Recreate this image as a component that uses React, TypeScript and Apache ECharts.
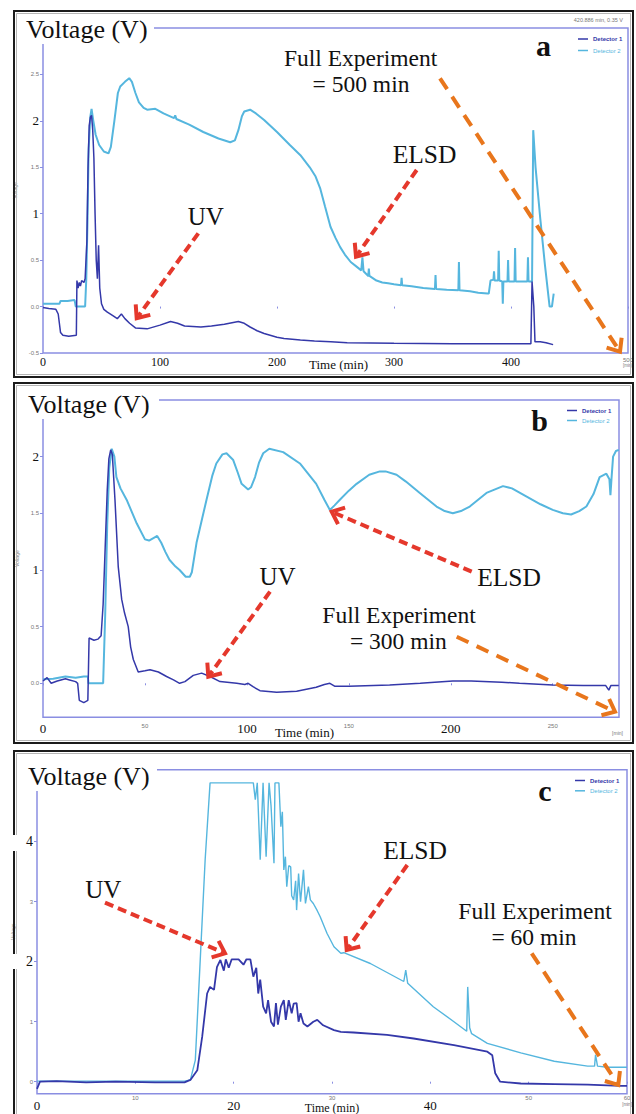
import React, { useEffect, useRef } from 'react';
import * as echarts from 'echarts';

// ---------- Data (time in min, voltage in V) ----------
// Panel a (500 min run)
const ELSD_A: number[][] = [
  [0, 0.03], [5, 0.03], [14, 0.03], [15, 0.06], [21, 0.06], [27, 0.07], [28, 0.0], [36, 0.0], [37, 0.3], [38, 0.9],
  [39, 1.7], [40.5, 2.05], [41.5, 2.13], [43, 2.0], [45, 1.85], [48, 1.74], [52, 1.67], [56, 1.65], [58, 1.72], [61, 2.0],
  [64, 2.3], [66, 2.37], [70, 2.42], [73.7, 2.46], [76, 2.42], [79, 2.3], [82, 2.2], [86, 2.14], [89, 2.12], [96, 2.13],
  [103, 2.08], [112, 2.03], [113, 2.06], [114, 2.02], [125, 1.96], [137, 1.88], [150, 1.81], [160, 1.77], [164, 1.79],
  [167, 1.9], [170, 2.05], [172, 2.1], [177, 2.12], [182, 2.08], [189, 2.01], [200, 1.88], [211, 1.74], [220, 1.63],
  [228, 1.5], [233, 1.4], [237, 1.27], [241, 1.08], [245.7, 0.86], [250, 0.74], [254, 0.64], [258, 0.56], [263, 0.48],
  [268, 0.43], [272, 0.39], [273, 0.53], [274, 0.38], [278, 0.33], [278.5, 0.41], [279, 0.33], [285, 0.28], [290, 0.26],
  [295, 0.25], [300, 0.24], [306, 0.23], [306.5, 0.31], [307, 0.23], [315, 0.22], [325, 0.2], [335, 0.19], [335.5, 0.34],
  [336, 0.19], [345, 0.18], [355, 0.175], [355.5, 0.48], [356, 0.175], [365, 0.165], [372, 0.15], [380, 0.14], [381, 0.14],
  [382.5, 0.28], [385, 0.29], [385.5, 0.38], [386, 0.28], [389, 0.28], [389.5, 0.6], [390, 0.28], [392.5, 0.27], [393, 0.03],
  [393.5, 0.27], [397, 0.27], [397.5, 0.5], [398, 0.27], [403, 0.27], [403.5, 0.63], [404, 0.27], [410, 0.27], [414, 0.27],
  [414.5, 0.53], [415, 0.27], [418, 0.27], [419, 1.9], [421, 1.5], [425, 0.95], [429, 0.45], [433, 0.0], [435, 0.0], [436.5, 0.14],
];
const UV_A: number[][] = [
  [0, -0.01], [5, -0.02], [11, -0.03], [13, -0.08], [15, -0.28], [17, -0.31], [22, -0.32], [28.5, -0.31], [29, 0.28], [30, 0.2],
  [31, 0.26], [32, 0.22], [33, 0.28], [35, 0.26], [36, 0.3], [37.5, 0.7], [38.5, 1.5], [39.5, 1.95], [40.5, 2.04], [41.5, 2.06],
  [42.5, 1.9], [43.5, 1.6], [44.5, 1.0], [45.5, 0.5], [46.5, 0.3], [47.5, 0.66], [48.5, 0.2], [50, 0.03], [52, -0.03], [55, -0.06],
  [60, -0.1], [63.5, -0.13], [67, -0.08], [70, -0.13], [74, -0.18], [79, -0.23], [89, -0.24], [100, -0.2], [109, -0.16],
  [115, -0.18], [121, -0.21], [135, -0.22], [144, -0.21], [155, -0.19], [167, -0.16], [172, -0.18], [177, -0.22], [183, -0.26],
  [189, -0.29], [200, -0.33], [206, -0.345], [220, -0.36], [232, -0.37], [246, -0.38], [260, -0.39], [300, -0.395], [350, -0.4],
  [417, -0.4], [418, 0.27], [419.5, 0.0], [420.5, -0.38], [425, -0.38], [430, -0.39], [436, -0.41],
];

// Panel b (300 min run)
const ELSD_B: number[][] = [
  [0, 0.035], [5, 0.04], [11, 0.06], [16, 0.05], [20, 0.06], [22, 0.06], [22.3, 0.0], [29.5, 0.0], [30.5, 0.6], [31.5, 1.4],
  [32.5, 1.9], [33.7, 2.07], [35, 2.0], [36, 1.82], [38, 1.72], [41, 1.62], [46, 1.41], [50, 1.27], [52, 1.26], [55, 1.29],
  [56, 1.3], [58, 1.24], [60, 1.16], [62, 1.09], [65, 1.03], [67, 1.0], [70, 0.94], [72, 0.94], [73, 0.98], [75.3, 1.24],
  [78, 1.45], [80.2, 1.62], [83, 1.83], [85, 1.94], [88, 2.02], [90, 2.03], [93.3, 1.97], [95.5, 1.86], [97.4, 1.76],
  [100.6, 1.71], [102, 1.73], [104, 1.82], [106, 1.95], [108, 2.03], [111, 2.07], [117.8, 2.04], [126, 1.94], [134, 1.76],
  [138, 1.62], [140.7, 1.53], [143, 1.57], [145.6, 1.62], [150, 1.7], [153.8, 1.76], [160, 1.84], [165.2, 1.87], [168, 1.87],
  [173.4, 1.84], [178, 1.78], [184.8, 1.68], [193, 1.56], [197, 1.52], [201, 1.5], [205, 1.52], [209.3, 1.56], [217.5, 1.68],
  [225.6, 1.74], [230, 1.72], [237, 1.65], [244, 1.58], [250, 1.53], [255, 1.5], [259, 1.49], [263, 1.52], [266.5, 1.56],
  [270, 1.67], [273, 1.82], [276.3, 1.85], [277.8, 1.8], [278.3, 1.66], [278.8, 1.8], [279.6, 2.0], [281, 2.05], [282.4, 2.06],
];
const UV_B: number[][] = [
  [0, 0.02], [2, 0.05], [4, 0.0], [7, 0.02], [11, 0.04], [13, 0.03], [16, 0.015], [17, 0.0], [17.8, -0.15], [20, -0.17],
  [22, -0.15], [22.6, 0.4], [25, 0.38], [27, 0.39], [28.5, 0.42], [29.5, 0.7], [30.5, 1.2], [31.5, 1.7], [32.3, 1.98],
  [33.2, 2.06], [34, 2.02], [35.3, 1.62], [36.9, 1.03], [38.6, 0.74], [40, 0.62], [41.8, 0.5], [43, 0.32], [44.3, 0.21],
  [46.7, 0.1], [50, 0.11], [52.5, 0.12], [56.6, 0.1], [60.6, 0.06], [64, 0.03], [67, 0.0], [69.6, 0.015], [73.7, 0.07],
  [77.8, 0.09], [81.9, 0.06], [86.8, 0.015], [95, 0.0], [99, -0.01], [100.6, 0.0], [103, -0.03], [106.4, -0.065],
  [114.6, -0.08], [124.4, -0.07], [134, -0.035], [138, -0.01], [140.7, 0.0], [143, -0.025], [150, -0.025], [170, -0.015],
  [185, 0.0], [201, 0.02], [210, 0.02], [225, 0.01], [233.7, 0.0], [250, -0.015], [265, -0.02], [276, -0.02], [277.5, -0.06],
  [278.5, -0.02], [282.4, -0.02],
];

// Panel c (60 min run)
const ELSD_C: number[][] = [
  [0, 0.01], [5, 0.01], [10, 0.01], [15, 0.01], [15.6, 0.03], [16.1, 0.36], [16.6, 2.03], [17.1, 3.7], [17.6, 4.98],
  [22, 4.98], [22.2, 4.7], [22.4, 4.98], [22.7, 3.7], [22.99, 4.98], [23.3, 3.75], [23.6, 4.98], [23.8, 4.6], [24.1, 3.64],
  [24.2, 4.98], [24.6, 4.98], [24.8, 4.25], [24.95, 4.5], [25.1, 3.53], [25.26, 3.75], [25.4, 3.25], [25.6, 3.6],
  [25.8, 3.58], [25.9, 3.1], [26.1, 3.03], [26.3, 3.35], [26.4, 2.86], [26.6, 3.47], [26.8, 3.0], [27.1, 3.53], [27.3, 2.97],
  [27.6, 3.25], [27.8, 3.03], [28.1, 2.97], [28.5, 2.85], [28.8, 2.75], [29.5, 2.47], [30.2, 2.25], [30.9, 2.14], [31.2, 2.15],
  [33.9, 1.97], [37.3, 1.67], [37.5, 1.86], [37.7, 1.64], [40.3, 1.25], [42.4, 1.0], [43.7, 0.84], [43.8, 1.58], [44, 0.9],
  [44.2, 0.8], [45.8, 0.64], [49.2, 0.48], [52.6, 0.34], [56, 0.26], [56.7, 0.26], [56.8, 0.45], [57, 0.26], [58, 0.24], [60, 0.24],
];
const UV_C: number[][] = [
  [0, -0.12], [0.3, 0.0], [2, 0.01], [5, -0.01], [8, 0.0], [12, -0.01], [15, -0.01], [15.6, 0.03], [16.3, 0.19], [16.8, 0.75],
  [17.3, 1.47], [17.6, 1.58], [18.0, 1.53], [18.3, 1.91], [18.65, 2.03], [19.0, 1.85], [19.2, 2.04], [19.5, 1.9], [19.8, 2.04],
  [20.5, 2.04], [21, 1.95], [21.3, 2.04], [21.7, 2.04], [22, 1.75], [22.3, 1.9], [22.5, 1.47], [22.7, 1.7], [23, 1.25],
  [23.3, 1.14], [23.5, 1.36], [23.8, 1.0], [24.1, 0.92], [24.3, 1.31], [24.5, 0.95], [24.8, 1.25], [25.1, 1.36], [25.3, 1.03],
  [25.6, 1.36], [25.9, 1.14], [26.1, 1.3], [26.4, 1.31], [26.6, 1.0], [26.8, 1.14], [27.1, 0.97], [27.5, 0.92], [28.1, 1.0],
  [28.5, 1.03], [29.1, 0.94], [30.2, 0.86], [30.9, 0.83], [32.2, 0.82], [35.6, 0.78], [38.3, 0.72], [42.4, 0.61], [45.8, 0.5],
  [46.3, 0.44], [46.6, 0.14], [47.1, 0.0], [49.2, -0.03], [52.6, -0.04], [56, -0.05], [59.3, -0.07], [60, -0.07],
];

// Tick values / labels
const X_TICKS_A = [0, 100, 200, 300, 400, 500];
const X_BIG_A = [0, 100, 200, 300, 400];
const Y_TICKS_A = [-0.5, 0, 0.5, 1, 1.5, 2, 2.5];
const Y_BIG_A = [1, 2];
const X_TICKS_B = [0, 50, 100, 150, 200, 250];
const X_BIG_B = [0, 100, 200];
const Y_TICKS_B = [0, 0.5, 1, 1.5, 2];
const Y_BIG_B = [1, 2];
const X_TICKS_C = [0, 10, 20, 30, 40, 50, 60];
const X_BIG_C = [0, 20, 40];
const Y_TICKS_C = [0, 1, 2, 3, 4];
const Y_BIG_C = [2, 4];
const UNIT_LABEL = '[min]';
const SERIES_NAMES = ['Detector 1', 'Detector 2'];

// ---------- Styles ----------
const FRAME = '#8a8ee2';
const ELSD_COLOR = '#55b6de';
const UV_COLOR = '#3438a9';
const RED = '#e5382c';
const ORANGE = '#e8761c';
const SERIF = '"Liberation Serif", "Times New Roman", serif';
const SANS = '"Liberation Sans", Arial, sans-serif';

function fmtY(v: number, big: number[], zeroStr: string) {
  if (big.indexOf(v) >= 0) return `{big|${v}}`;
  const s = v === 0 ? zeroStr : String(v);
  return `{small|${s}}`;
}

function richFor(bigSize: number, bigPadTop = 0) {
  return {
    big: { fontFamily: SERIF, fontSize: bigSize, color: '#111', padding: [bigPadTop, 0, 0, 0] },
    small: { fontFamily: SANS, fontSize: 6, color: '#777', lineHeight: 7 },
    tiny: { fontFamily: SANS, fontSize: 4.5, color: '#777', lineHeight: 5 },
  };
}

function xAxisDef(gi: number, max: number, ticks: number[], big: number[], bigSize: number, margin: number, unitAt: number | null, bigPadTop = 0) {
  return {
    gridIndex: gi, type: 'value', min: 0, max,
    axisLine: { show: false },
    splitLine: { show: false },
    axisTick: { show: true, length: 2, lineStyle: { color: FRAME }, customValues: ticks },
    axisLabel: {
      customValues: ticks, margin,
      formatter: (v: number) => {
        if (big.indexOf(v) >= 0) return `{big|${v}}`;
        if (unitAt !== null && v === unitAt) return `{small|${v}}\n{tiny|${UNIT_LABEL}}`;
        return `{small|${v}}`;
      },
      rich: richFor(bigSize, bigPadTop),
    },
  };
}

function yAxisDef(gi: number, min: number, max: number, ticks: number[], big: number[], zeroStr: string, bigSize: number, nameGap: number) {
  return {
    gridIndex: gi, type: 'value', min, max,
    axisLine: { show: false },
    splitLine: { show: false },
    axisTick: { show: true, length: 3, lineStyle: { color: FRAME }, customValues: ticks },
    axisLabel: {
      customValues: ticks, margin: 4,
      formatter: (v: number) => fmtY(v, big, zeroStr),
      rich: richFor(bigSize),
    },
    name: 'Voltage', nameLocation: 'middle', nameGap, nameRotate: 90,
    nameTextStyle: { fontSize: 5, color: '#888', fontFamily: SANS },
  };
}

function lineSeries(name: string, data: number[][], idx: number, color: string, width: number) {
  return {
    type: 'line', name, data, xAxisIndex: idx, yAxisIndex: idx,
    showSymbol: false, symbol: 'none', silent: true, color,
    lineStyle: { color, width }, itemStyle: { color },
    z: name === 'Detector 1' ? 4 : 3,
  };
}

function arrow(x1: number, y1: number, x2: number, y2: number, color: string, dash: number[]) {
  const dx = x2 - x1, dy = y2 - y1;
  const len = Math.hypot(dx, dy);
  const ux = dx / len, uy = dy / len;
  const bx = -ux, by = -uy;
  const L = 14, a = (40 * Math.PI) / 180;
  const r1 = [bx * Math.cos(a) - by * Math.sin(a), bx * Math.sin(a) + by * Math.cos(a)];
  const r2 = [bx * Math.cos(-a) - by * Math.sin(-a), bx * Math.sin(-a) + by * Math.cos(-a)];
  return [
    { type: 'line', z: 100, shape: { x1, y1, x2: x2 - ux * 3, y2: y2 - uy * 3 }, style: { stroke: color, lineWidth: 4, lineDash: dash } },
    {
      type: 'polyline', z: 100,
      shape: { points: [[x2 + r1[0] * L, y2 + r1[1] * L], [x2, y2], [x2 + r2[0] * L, y2 + r2[1] * L]] },
      style: { stroke: color, lineWidth: 4, fill: null, lineJoin: 'miter' },
    },
  ];
}

function txt(text: string, x: number, y: number, fontSize: number, align = 'center', weight = 'normal', fill = '#111', family = SERIF) {
  return { type: 'text', z: 102, x, y, style: { text, fontSize, fontFamily: family, fontWeight: weight, fill, align, verticalAlign: 'middle' } };
}

function whiteRect(x: number, y: number, w: number, h: number) {
  return { type: 'rect', z: 101, shape: { x, y, width: w, height: h }, style: { fill: '#fff' } };
}

function panelBorder(x: number, y: number, w: number, h: number) {
  return [
    { type: 'rect', z: 99, shape: { x, y, width: w, height: h }, style: { fill: null, stroke: '#1b1b1b', lineWidth: 2 } },
    { type: 'rect', z: 99, shape: { x: x + 2.5, y: y + 2.5, width: w - 5, height: h - 5 }, style: { fill: null, stroke: '#b5b5b5', lineWidth: 1 } },
  ];
}

function legendDef(left: number, top: number, gap: number) {
  return {
    left, top, orient: 'vertical', itemGap: gap, itemWidth: 10, itemHeight: 1.5, icon: 'rect',
    selectedMode: false, padding: 0,
    textStyle: { fontSize: 6, fontFamily: SANS, lineHeight: 7 },
    data: [
      { name: SERIES_NAMES[0], textStyle: { color: UV_COLOR, fontWeight: 'bold' } },
      { name: SERIES_NAMES[1], textStyle: { color: ELSD_COLOR } },
    ],
  };
}

export default function App() {
  const ref = useRef<HTMLDivElement>(null);

  useEffect(() => {
    if (!ref.current) return;
    const chart = echarts.init(ref.current, undefined, { renderer: 'svg' });

    const graphic: any[] = [
      ...panelBorder(14, 11, 619, 366),
      ...panelBorder(14, 383, 619, 360),
      ...panelBorder(14, 751, 619, 380),
      // titles (white boxes cover the frame corner)
      whiteRect(22, 15, 132, 29),
      txt('Voltage (V)', 26, 29.7, 26, 'left'),
      whiteRect(22, 390, 137, 29),
      txt('Voltage (V)', 28, 404.7, 26, 'left'),
      whiteRect(22, 762, 135, 29),
      txt('Voltage (V)', 28, 776.4, 26, 'left'),
      whiteRect(11, 835, 11, 16),
      whiteRect(11, 954, 11, 15),
      // panel letters
      txt('a', 543.5, 45, 30, 'center', 'bold'),
      txt('b', 539.7, 420, 30, 'center', 'bold'),
      txt('c', 545, 790, 30, 'center', 'bold'),
      // panel a annotations
      txt('Full Experiment', 360.6, 58, 23.5),
      txt('= 500 min', 361, 84, 23.5),
      txt('ELSD', 424.5, 154, 25.5),
      txt('UV', 205.8, 216.7, 25),
      ...arrow(198.3, 233.3, 136.7, 318.3, RED, [9, 5]),
      ...arrow(416.7, 170, 356, 256.7, RED, [9, 5]),
      ...arrow(440, 78.3, 620, 351.7, ORANGE, [13, 9]),
      // panel b annotations
      txt('UV', 277.5, 576.7, 25),
      txt('ELSD', 509, 577.6, 25.5),
      txt('Full Experiment', 399, 614.9, 23.5),
      txt('= 300 min', 398.3, 640.5, 23.5),
      ...arrow(270, 591.7, 208.3, 676.7, RED, [9, 5]),
      ...arrow(471.7, 571.7, 331.7, 511.7, RED, [9, 5]),
      ...arrow(456.7, 636.7, 615, 711.7, ORANGE, [13, 9]),
      // panel c annotations
      txt('ELSD', 415, 850, 25.5),
      txt('UV', 103.3, 889, 25),
      txt('Full Experiment', 535, 910.5, 23.5),
      txt('= 60 min', 534, 937, 23.5),
      ...arrow(105, 902.7, 225, 953.3, RED, [9, 5]),
      ...arrow(407.3, 865, 346.7, 950, RED, [9, 5]),
      ...arrow(531.7, 953.3, 618.3, 1085, ORANGE, [13, 9]),
      // axis titles and small texts
      txt('Time (min)', 338.5, 364.5, 13),
      txt('Time (min)', 304.5, 732.5, 13),
      txt('Time (min)', 332, 1108, 12),
      txt(UNIT_LABEL, 617.5, 733, 5, 'center', 'normal', '#777', SANS),
      txt('420.886 min, 0.35 V', 623, 19.5, 5.5, 'right', 'normal', '#777', SANS),
    ];

    chart.setOption({
      animation: false,
      backgroundColor: '#fff',
      grid: [
        { left: 43, top: 28, width: 587, height: 325, show: true, borderColor: FRAME, borderWidth: 1.5, containLabel: false },
        { left: 43, top: 400, width: 576, height: 317.3, show: true, borderColor: FRAME, borderWidth: 1.5, containLabel: false },
        { left: 37, top: 769.7, width: 590, height: 324, show: true, borderColor: FRAME, borderWidth: 1.5, containLabel: false },
      ],
      xAxis: [
        xAxisDef(0, 500, X_TICKS_A, X_BIG_A, 12, 3, 500),
        xAxisDef(1, 282.5, X_TICKS_B, X_BIG_B, 13, 5, null),
        xAxisDef(2, 60, X_TICKS_C, X_BIG_C, 13, 1, 60, 4),
      ],
      yAxis: [
        yAxisDef(0, -0.5, 3, Y_TICKS_A, Y_BIG_A, '0.0', 13, 21),
        yAxisDef(1, -0.3, 2.5, Y_TICKS_B, Y_BIG_B, '0.0', 13, 21),
        yAxisDef(2, -0.2, 5.2, Y_TICKS_C, Y_BIG_C, '0', 14, 12),
      ],
      legend: [legendDef(578, 35.5, 4.5), legendDef(567, 407, 3), legendDef(575, 777, 3.3)],
      series: [
        lineSeries(SERIES_NAMES[1], ELSD_A, 0, ELSD_COLOR, 2),
        lineSeries(SERIES_NAMES[0], UV_A, 0, UV_COLOR, 1.5),
        lineSeries(SERIES_NAMES[1], ELSD_B, 1, ELSD_COLOR, 2),
        lineSeries(SERIES_NAMES[0], UV_B, 1, UV_COLOR, 1.5),
        lineSeries(SERIES_NAMES[1], ELSD_C, 2, ELSD_COLOR, 1.4),
        lineSeries(SERIES_NAMES[0], UV_C, 2, UV_COLOR, 1.8),
      ],
      graphic,
    });

    return () => chart.dispose();
  }, []);

  return (
    <div
      ref={ref}
      style={{ position: 'absolute', left: 0, top: 0, width: 636, height: 1114, background: '#fff' }}
    />
  );
}
